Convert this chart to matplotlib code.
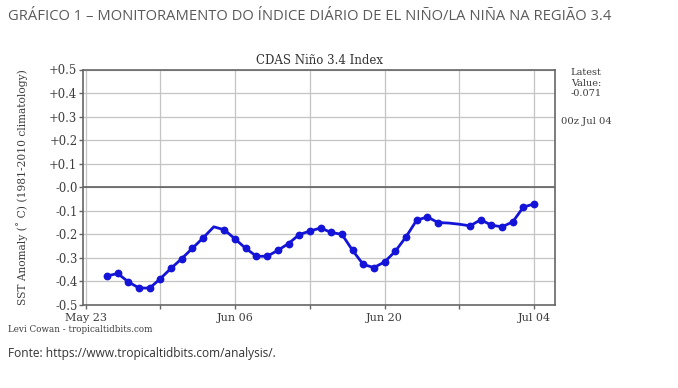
import numpy as np
import matplotlib
matplotlib.use("Agg")
import matplotlib.pyplot as plt
import matplotlib.dates as mdates

# daily CDAS Nino 3.4 anomaly, 00z values
start_day = "2024-05-25"
anomaly = [-0.377, -0.366, -0.402, -0.428, -0.428, -0.388, -0.344,   # May 25-31
           -0.303, -0.259, -0.215, -0.168, -0.181, -0.220, -0.260,   # Jun 01-07
           -0.293, -0.293, -0.268, -0.239, -0.201, -0.186, -0.173,   # Jun 08-14
           -0.192, -0.200, -0.268, -0.328, -0.341, -0.317, -0.272,   # Jun 15-21
           -0.211, -0.140, -0.126, -0.150, -0.152, -0.157, -0.164,   # Jun 22-28
           -0.138, -0.161, -0.168, -0.147, -0.084, -0.071]           # Jun 29-Jul 04
no_marker_days = ["2024-06-04", "2024-06-26", "2024-06-27"]

major_days = ["2024-05-23", "2024-06-06", "2024-06-20", "2024-07-04"]
minor_days = ["2024-05-30", "2024-06-13", "2024-06-27"]
y_ticks = [0.5, 0.4, 0.3, 0.2, 0.1, 0.0, -0.1, -0.2, -0.3, -0.4, -0.5]
y_labels = ["+0.5", "+0.4", "+0.3", "+0.2", "+0.1", "-0.0",
            "-0.1", "-0.2", "-0.3", "-0.4", "-0.5"]

latest_text = "Latest\nValue:\n-0.071"
latest_time = "00z Jul 04"

dates = np.arange(np.datetime64(start_day), np.datetime64(start_day) + len(anomaly))
values = np.array(anomaly)
has_marker = ~np.isin(dates, np.array(no_marker_days, dtype="datetime64[D]"))

serif = "DejaVu Serif"
txt_gray = "#3c3c3c"

fig = plt.figure(figsize=(6.78, 3.88), dpi=100)
ax = fig.add_axes([83 / 678, 83 / 388, 472 / 678, 235.5 / 388])

ax.plot(dates, values, color="#1414d8", lw=2.0, zorder=3)
ax.plot(dates[has_marker], values[has_marker], "o", color="#1414d8",
        ms=4.6, zorder=4)

ax.set_xlim(np.datetime64("2024-05-22T18"), np.datetime64("2024-07-05T23"))
ax.set_ylim(-0.5, 0.5)

ax.set_xticks(np.array(major_days, dtype="datetime64[D]"))
ax.set_xticks(np.array(minor_days, dtype="datetime64[D]"), minor=True)
ax.xaxis.set_major_formatter(mdates.DateFormatter("%b %d"))
ax.set_yticks(y_ticks)
ax.set_yticklabels(y_labels)

ax.grid(True, which="both", color="#c4c4c4", lw=0.9)
ax.axhline(0, color="#555555", lw=1.1, zorder=2)
ax.set_axisbelow(True)

for sp in ax.spines.values():
    sp.set_color("#666666")
    sp.set_linewidth(1.2)

ax.tick_params(which="both", length=3, width=1, color="#666666",
               labelcolor=txt_gray)
ax.tick_params(axis="y", labelsize=8.4, pad=1)
ax.tick_params(axis="x", labelsize=8.0, pad=3)
for lab in ax.get_xticklabels() + ax.get_yticklabels():
    lab.set_family(serif)

ax.set_ylabel("SST Anomaly (˚ C) (1981-2010 climatology)", family=serif,
              fontsize=7.7, color=txt_gray, labelpad=15)
ax.set_title("CDAS Niño 3.4 Index", family=serif, fontsize=8.5,
             color="#333333", pad=4)

fig.text(586 / 678, 1 - 68 / 388, latest_text, family=serif, fontsize=7.0,
         color=txt_gray, ha="center", va="top", linespacing=1.25)
fig.text(586 / 678, 1 - 122 / 388, latest_time, family=serif, fontsize=7.2,
         color=txt_gray, ha="center", va="center")
fig.text(8 / 678, 1 - 329 / 388, "Levi Cowan - tropicaltidbits.com",
         family=serif, fontsize=6.3, color=txt_gray, va="center")

# page header and source line
fig.text(8 / 678, 1 - 16 / 388,
         "GRÁFICO 1 – MONITORAMENTO DO ÍNDICE DIÁRIO DE EL NIÑO/LA NIÑA NA REGIÃO 3.4",
         family="Open Sans", fontsize=10.6, color="#5a5a5a", va="center")
fig.text(8 / 678, 1 - 354 / 388, "Fonte: https://www.tropicaltidbits.com/analysis/.",
         family="Open Sans", fontsize=8.6, color="#333333", va="center")

fig.savefig("out.png", dpi=100)
